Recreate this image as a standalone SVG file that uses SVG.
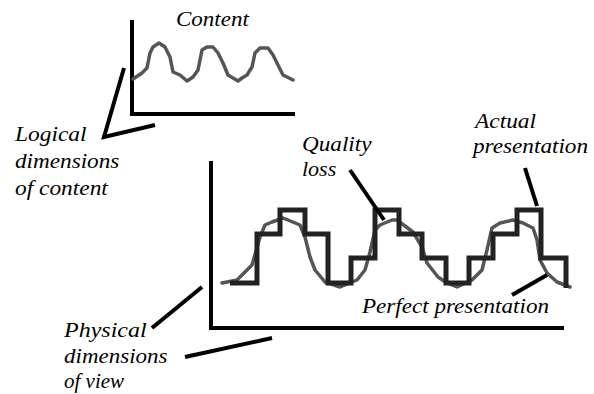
<svg xmlns="http://www.w3.org/2000/svg" width="594" height="394" viewBox="0 0 594 394">
<style>
.lbl{font-family:"Liberation Serif","Times New Roman",serif;font-style:italic;font-size:20px;fill:#000}
.axis{fill:none;stroke:#000;stroke-width:4;stroke-linecap:square}
.wave{fill:none;stroke:#555;stroke-width:3.5;stroke-linejoin:round;stroke-linecap:round}
.step{fill:none;stroke:#222;stroke-width:5;stroke-linejoin:miter;stroke-linecap:butt}
.conn{fill:none;stroke:#000;stroke-width:4;stroke-linejoin:miter}
</style>
<rect width="594" height="394" fill="#fff"/>
<g id="content-graph">
<polyline class="axis" points="132,22 132,114 293,114"/>
<polyline class="wave" points="133,79 142,73 147,68 150,53 153,47 159,43 165,47 170,57 173,72 180,75 187,81 193,77 198,70 202,50 207,47 213,47 218,53 223,63 228,75 238,81 242,78 247,75 252,67 255,53 260,48 268,48 273,55 278,65 283,75 293,80"/>
<text class="lbl" transform="translate(176,26) scale(1.15,1)">Content</text>
</g>
<g id="view-graph">
<polyline class="axis" points="211,163 211,328 562,328"/>
<polyline class="wave" points="222,283 237,280 252,265 260,237 265,225 272,222 283,218 300,225 305,237 310,257 315,270 325,282 340,287 357,280 365,270 370,252 375,230 380,225 392,220 397,220 413,232 422,247 427,263 438,277 447,283 457,287 472,280 482,270 487,250 492,228 500,223 513,220 523,223 533,228 537,240 540,260 547,273 557,282 570,287"/>
<path class="step" d="M230 283 H257 V234 H280 V210 H305 V234 H328 V283 H351 V258 H375 V210 H399 V234 H422 V258 H446 V283 H469 V258 H493 V234 H517 V210 H541 V258 H566 V288"/>
</g>
<g id="label-logical">
<text class="lbl" transform="translate(15,141) scale(1.17,1)">Logical</text>
<text class="lbl" transform="translate(15,168) scale(1.16,1)">dimensions</text>
<text class="lbl" transform="translate(15,195) scale(1.17,1)">of content</text>
</g>
<g id="label-quality">
<text class="lbl" transform="translate(302,151) scale(1.16,1)">Quality</text>
<text class="lbl" transform="translate(302,176) scale(1.1,1)">loss</text>
</g>
<g id="label-actual">
<text class="lbl" transform="translate(475,128) scale(1.17,1)">Actual</text>
<text class="lbl" transform="translate(473,153) scale(1.16,1)">presentation</text>
</g>
<g id="label-perfect">
<text class="lbl" transform="translate(362,313) scale(1.155,1)">Perfect presentation</text>
</g>
<g id="label-physical">
<text class="lbl" transform="translate(64,337) scale(1.2,1)">Physical</text>
<text class="lbl" transform="translate(64,363) scale(1.15,1)">dimensions</text>
<text class="lbl" transform="translate(64,388) scale(1.05,1)">of view</text>
</g>
<g id="connectors">
<polyline class="conn" points="124,68 104,137 155,125"/>
<line class="conn" x1="152" y1="328" x2="202" y2="287"/>
<line class="conn" x1="185" y1="357" x2="272" y2="338"/>
<line class="conn" x1="350" y1="170" x2="384" y2="220"/>
<line class="conn" x1="525" y1="168" x2="537" y2="206"/>
<line class="conn" x1="512" y1="295" x2="547" y2="275"/>
</g>
</svg>
